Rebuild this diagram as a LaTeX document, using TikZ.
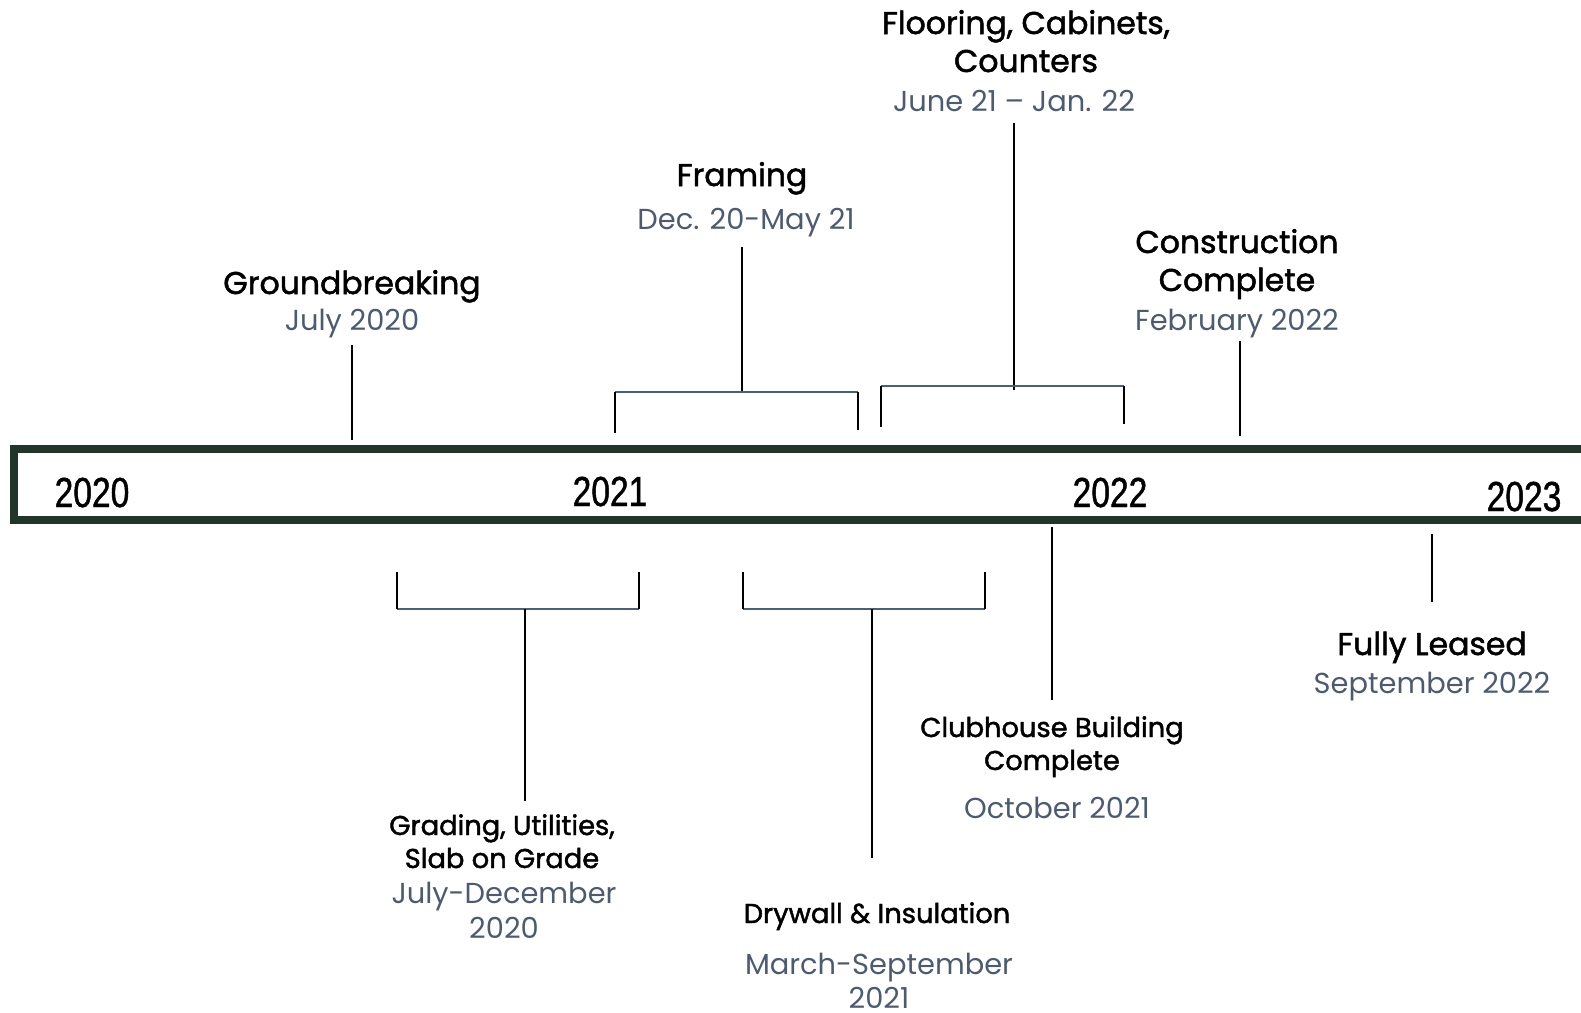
\documentclass[tikz,border=0pt]{standalone}
\usepackage{fontspec}
\setmainfont{Poppins}
\newfontfamily\headfont[FakeBold=1.6]{Poppins}
\newfontfamily\yearfont[FakeStretch=0.8, FakeBold=1]{Liberation Sans}
\usetikzlibrary{positioning}

\definecolor{bargreen}{HTML}{22352B}
\definecolor{dategray}{HTML}{4D5B72}
\definecolor{bracketblue}{HTML}{4A6078}

\tikzset{
  bighead/.style={anchor=base, inner sep=0pt, font=\headfont\fontsize{31.5}{36}\selectfont},
  smallhead/.style={anchor=base, inner sep=0pt, font=\headfont\fontsize{27.3}{32}\selectfont},
  datetext/.style={anchor=base, inner sep=0pt, text=dategray, font=\fontsize{28.9}{34}\selectfont},
  yeartext/.style={anchor=base, inner sep=0pt, font=\yearfont\fontsize{42}{46}\selectfont},
  stem/.style={black, line width=1.8pt},
  brace/.style={bracketblue, line width=1.8pt},
}

\begin{document}
\begin{tikzpicture}[x=1pt, y=-1pt]
    \useasboundingbox (0,0) rectangle (1581,1012);

    % timeline bar
    \draw [bargreen, line width=8pt] (14,449) rectangle (1586,520);
    \node (y2020) at (92,507) [yeartext] {2020};
    \node (y2021) at (610,506) [yeartext] {2021};
    \node (y2022) at (1110,507) [yeartext] {2022};
    \node (y2023) at (1524,511) [yeartext] {2023};

    % groundbreaking
    \node (gb) at (352,294) [bighead] {Groundbreaking};
    \node (gbdate) at (352,330) [datetext] {July 2020};
    \coordinate (gbA) at (352,345);
    \coordinate (gbB) at (352,440);
    \draw [stem] (gbA) -- (gbB);

    % framing
    \node (fr) at (742,186) [bighead] {Framing};
    \node (frdate) at (746,229) [datetext] {Dec. 20-May 21};
    \coordinate (frA) at (742,247);
    \coordinate (frB) at (742,392);
    \coordinate (frL) at (615,392);
    \coordinate (frR) at (858,392);
    \draw [stem] (frA) -- (frB);
    \draw [brace] (frL) -- (frR);
    \draw [stem] (frL) -- ++(0,41);
    \draw [stem] (frR) -- ++(0,38);

    % flooring
    \node (fl1) at (1026,34) [bighead] {Flooring, Cabinets,};
    \node (fl2) at (1026,72) [bighead] {Counters};
    \node (fldate) at (1014,111) [datetext] {June 21 – Jan. 22};
    \coordinate (flA) at (1014,123);
    \coordinate (flB) at (1014,390);
    \coordinate (flL) at (881,386);
    \coordinate (flR) at (1124,386);
    \draw [stem] (flA) -- (flB);
    \draw [brace] (flL) -- (flR);
    \draw [stem] (flL) -- ++(0,41);
    \draw [stem] (flR) -- ++(0,38);

    % construction complete
    \node (cc1) at (1237,253) [bighead] {Construction};
    \node (cc2) at (1237,291) [bighead] {Complete};
    \node (ccdate) at (1237,330) [datetext] {February 2022};
    \coordinate (ccA) at (1240,341);
    \coordinate (ccB) at (1240,436);
    \draw [stem] (ccA) -- (ccB);

    % grading
    \coordinate (grL) at (397,609);
    \coordinate (grR) at (639,609);
    \coordinate (grA) at (525,609);
    \coordinate (grB) at (525,801);
    \draw [brace] (grL) -- (grR);
    \draw [stem] (grL) -- ++(0,-37);
    \draw [stem] (grR) -- ++(0,-37);
    \draw [stem] (grA) -- (grB);
    \node (gr1) at (502,835) [smallhead] {Grading, Utilities,};
    \node (gr2) at (502,868) [smallhead] {Slab on Grade};
    \node (grdate1) at (504,903) [datetext] {July-December};
    \node (grdate2) at (504,938) [datetext] {2020};

    % drywall
    \coordinate (dwL) at (743,609);
    \coordinate (dwR) at (985,609);
    \coordinate (dwA) at (872,609);
    \coordinate (dwB) at (872,858);
    \draw [brace] (dwL) -- (dwR);
    \draw [stem] (dwL) -- ++(0,-37);
    \draw [stem] (dwR) -- ++(0,-37);
    \draw [stem] (dwA) -- (dwB);
    \node (dw) at (877,923) [smallhead] {Drywall \& Insulation};
    \node (dwdate1) at (879,974) [datetext] {March-September};
    \node (dwdate2) at (879,1008) [datetext] {2021};

    % clubhouse
    \coordinate (chA) at (1052,527);
    \coordinate (chB) at (1052,700);
    \draw [stem] (chA) -- (chB);
    \node (ch1) at (1052,737) [smallhead] {Clubhouse Building};
    \node (ch2) at (1052,770) [smallhead] {Complete};
    \node (chdate) at (1057,818) [datetext] {October 2021};

    % fully leased
    \coordinate (flsA) at (1432,534);
    \coordinate (flsB) at (1432,602);
    \draw [stem] (flsA) -- (flsB);
    \node (fls) at (1432,655) [bighead] {Fully Leased};
    \node (flsdate) at (1432,693) [datetext] {September 2022};
\end{tikzpicture}
\end{document}
